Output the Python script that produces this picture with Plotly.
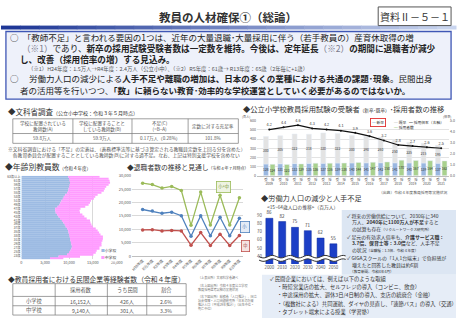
import math
import plotly.graph_objects as go

W, H = 462, 320
FONT = "Noto Sans CJK JP"


def X(v):
    return v / W


def Y(v):
    return 1 - v / H


# ---------------- data ----------------
# 年齢別教員数（令和４年度）
age_labels = [f"{a}歳" for a in range(22, 63)] + ["63歳以上"]
age_elem = [6000, 7800, 9600, 10000, 10300, 10500, 10600, 10500, 10400, 10300,
            10200, 10100, 10000, 9900, 9800, 9600, 9300, 9100, 8800, 8500,
            8100, 7800, 7500, 7200, 7100, 7100, 7600, 8000, 8200, 8400,
            8700, 8900, 9200, 9600, 9800, 9900, 10000, 10100, 10200, 10100,
            10000, 9800]
age_junior = [2800, 4500, 5500, 5600, 5500, 6100, 6200, 6300, 6400, 6700,
              6900, 7000, 6600, 6400, 6200, 6000, 5700, 5600, 5700, 5900,
              5600, 5400, 5300, 5100, 5100, 5300, 5800, 6100, 6200, 6200,
              6500, 6600, 6800, 7200, 7500, 7600, 7800, 8200, 8400, 8400,
              8300, 6600]
age_ticks = ["63歳以上"] + [f"{a}歳" for a in range(61, 22, -2)]
age_xticks = [0, 5000, 10000, 15000, 20000]

# 退職者数の推移と見通し
retire_labels = ["H30年度", "R元年度", "R2年度", "R3年度", "R4年度", "R5年度",
                 "R6年度", "R7年度", "R8年度", "R9年度", "R10年度"]
retire_total = [27200, 26700, 25400, 26000, 24500, 11500, 23900, 11600, 22700, 11600, 21800]
retire_elem = [17400, 16800, 16000, 16400, 15100, 7400, 15100, 7600, 14500, 7600, 14100]
retire_junior = [9800, 9900, 9400, 9600, 9400, 4100, 8800, 4000, 8200, 4000, 7700]

# 公立小学校教員採用試験
exam_years = [2009, 2010, 2011, 2012, 2013, 2014, 2015, 2016, 2017, 2018, 2019, 2020, 2021]
exam_new = [128, 131, 133, 135, 137, 139, 140, 141, 142, 141, 140, 139, 137]
exam_old = [300, 305, 322, 318, 330, 322, 300, 290, 280, 250, 225, 215, 195]
exam_hired = [124, 123, 129, 136, 136, 138, 144, 147, 150, 170, 167, 164, 162]
exam_ratio = [4.2, 4.4, 4.6, 4.3, 4.2, 4.1, 3.9, 3.6, 3.2, 2.8, 2.7, 2.6, 2.5]

# 15～64歳人口の推移（百万人）
pop_years = ["2000", "2010", "2020", "2030", "2040", "2050"]
pop_values = [86, 82, 75, 71, 62, 55]

# 文科省調査 table
tbl1_header = ["学校に配置されている<br>教師数(A)", "学校に配置することと<br>している教師数(B)",
               "不足(C)<br>(=B−A)", "定数に対する充足率"]
tbl1_values = ["59.8万人", "59.9万人", "0.17万人（0.28%）", "101.8%"]
tbl1_colw = [61, 60, 57, 51]

# 民間企業等経験者 table
tbl2_header = ["", "採用者数", "うち民間", "割合"]
tbl2_school = ["小学校", "中学校"]
tbl2_hired = ["16,152人", "9,140人"]
tbl2_private = ["426人", "301人"]
tbl2_share = ["2.6%", "3.3%"]
tbl2_colw = [43, 53, 40, 40]

fig = go.Figure()

# ---------------- age pyramid ----------------
fig.add_trace(go.Bar(y=age_labels, x=age_elem, orientation="h", width=0.9,
                     marker=dict(color="#9dbbe3", line=dict(width=0)),
                     xaxis="x", yaxis="y", name="小学校"))
fig.add_trace(go.Bar(y=age_labels, x=age_junior, base=age_elem, orientation="h", width=0.9,
                     marker=dict(color="#ff9cff", line=dict(width=0)),
                     xaxis="x", yaxis="y", name="中学校"))

# ---------------- retirements ----------------
for vals, col in [(retire_total, "#9bbb59"), (retire_elem, "#4f81bd"), (retire_junior, "#c0504d")]:
    fig.add_trace(go.Scatter(x=retire_labels, y=vals, mode="lines+markers",
                             line=dict(color=col, width=1.3), marker=dict(size=3.5, color=col),
                             xaxis="x2", yaxis="y2"))

# ---------------- exam chart ----------------
bar_font = dict(size=3.3, color="#333", family=FONT)
fig.add_trace(go.Bar(x=exam_years, y=exam_new, offset=-0.4, width=0.34,
                     marker=dict(color="#9ab7e0"), text=exam_new, textposition="inside",
                     insidetextanchor="middle", textangle=0, constraintext="none",
                     textfont=bar_font, xaxis="x3", yaxis="y3"))
fig.add_trace(go.Bar(x=exam_years, y=exam_old, base=exam_new, offset=-0.4, width=0.34,
                     marker=dict(color="#e3e3e3"), text=exam_old, textposition="inside",
                     insidetextanchor="middle", textangle=0, constraintext="none",
                     textfont=bar_font, xaxis="x3", yaxis="y3"))
fig.add_trace(go.Bar(x=exam_years, y=exam_hired, offset=0.06, width=0.34,
                     marker=dict(color="#a9d18e"), text=exam_hired, textposition="inside",
                     insidetextanchor="middle", textangle=0, constraintext="none",
                     textfont=bar_font, xaxis="x3", yaxis="y3"))
fig.add_trace(go.Scatter(x=exam_years, y=exam_ratio, mode="lines+markers+text",
                         text=[f"{v:.1f}" for v in exam_ratio], textposition="top center",
                         textfont=dict(size=3.8, color="#333", family=FONT),
                         line=dict(color="#111", width=1.2), marker=dict(size=2, color="#111"),
                         xaxis="x3", yaxis="y4", cliponaxis=False))

# ---------------- population bars ----------------
fig.add_trace(go.Bar(x=pop_years, y=pop_values, width=0.55,
                     marker=dict(color="#1c3fc6", line=dict(color="#0b2a9e", width=0.5)),
                     text=pop_values, textposition="outside", cliponaxis=False,
                     textfont=dict(size=4.5, color="#333", family=FONT),
                     xaxis="x5", yaxis="y5"))

# ---------------- shapes / annotations helpers ----------------
shapes = []
anns = []


def R(x0, y0, x1, y1, fill=None, line=None, lw=1.0, layer="below"):
    shapes.append(dict(type="rect", xref="paper", yref="paper", x0=X(x0), x1=X(x1), y0=Y(y1), y1=Y(y0),
                       fillcolor=fill or "rgba(0,0,0,0)",
                       line=dict(color=line or "rgba(0,0,0,0)", width=lw if line else 0), layer=layer))


def L(x0, y0, x1, y1, color="#777", width=0.7):
    shapes.append(dict(type="line", xref="paper", yref="paper", x0=X(x0), x1=X(x1), y0=Y(y0), y1=Y(y1),
                       line=dict(color=color, width=width), layer="above"))


def T(x, y, text, size, color="#333", anchor="left", **kw):
    d = dict(x=X(x), y=Y(y), xref="paper", yref="paper", text=text, showarrow=False,
             xanchor=anchor, yanchor="middle", font=dict(size=size, color=color, family=FONT))
    d.update(kw)
    anns.append(d)


def table(x0, col_w, row_edges, rows, size):
    xs = [x0]
    for w in col_w:
        xs.append(xs[-1] + w)
    R(xs[0], row_edges[0], xs[-1], row_edges[-1], fill="white")
    for xx in xs:
        L(xx, row_edges[0], xx, row_edges[-1])
    for yy in row_edges:
        L(xs[0], yy, xs[-1], yy)
    for r, row in enumerate(rows):
        yc = (row_edges[r] + row_edges[r + 1]) / 2
        for c, txt in enumerate(row):
            T((xs[c] + xs[c + 1]) / 2, yc, txt, size, "#555", "center")


# title gradient bar
n = 24
for i in range(n):
    t = i / (n - 1)
    r = int(30 + (200 - 30) * t)
    g = int(55 + (212 - 55) * t)
    b = int(150 + (238 - 150) * t)
    R(i * W / n, 22, (i + 1) * W / n + 0.5, 26, fill=f"rgb({r},{g},{b})")
R(383, 3, 457, 22, fill="white", line="#555", lw=1)
R(5, 28, 457, 97, fill="#eef1fa", line="#3f57b5", lw=1.3)
R(346, 210, 462, 276, fill="#dce6f3")
R(265, 276, 462, 320, fill="#e6edf7")

# tables
table(12, tbl1_colw, [117, 132, 142], [tbl1_header, tbl1_values], 4.6)
table(12, tbl2_colw, [285, 298, 307.5, 317],
      [tbl2_header] + [list(r) for r in zip(tbl2_school, tbl2_hired, tbl2_private, tbl2_share)], 5.2)

# broken-axis wave on population chart
pts_top, pts_bot = [], []
for k in range(0, 45):
    xx = 262 + k * 2
    yy = 257.5 + 1.3 * math.sin(k * 0.7)
    pts_top.append((xx, yy))
    pts_bot.append((xx, yy + 3.5))
path = "M " + " L ".join(f"{X(a):.5f},{Y(b):.5f}" for a, b in pts_top)
path += " L " + " L ".join(f"{X(a):.5f},{Y(b):.5f}" for a, b in reversed(pts_bot)) + " Z"
shapes.append(dict(type="path", xref="paper", yref="paper", path=path, fillcolor="white",
                   line=dict(width=0), layer="above"))
for pts in (pts_top, pts_bot):
    p = "M " + " L ".join(f"{X(a):.5f},{Y(b):.5f}" for a, b in pts)
    shapes.append(dict(type="path", xref="paper", yref="paper", path=p,
                       line=dict(color="#333", width=1), layer="above"))

# ---------------- texts ----------------
T(230, 13, "<b>教員の人材確保①（総論）</b>", 11.5, "#333", "center")
T(420, 12.5, "資料Ⅱ－５－１", 10, "#333", "center")

BS = 8.5
G = "<span style='color:#7a7a8a'>"
T(7, 34, "○　「教師不足」と言われる要因の1つは、近年の大量退職･大量採用に伴う（若手教員の）産育休取得の増", BS, "#222")
T(19, 44.8, G + "（※1）</span>であり、<b>新卒の採用試験受験者数は一定数を維持。今後は、定年延長</b>" + G +
  "（※2）</span><b>の期間に退職者が減少</b>", 8.6, "#222")
T(17, 56.3, "<b>し、改善（採用倍率の増）する見込み。</b>", 8.6, "#222")
T(25, 66, "（※1）H24年度：1.5万人→R4年度：2.4万人（公立小中）、（※2）R5年度：61歳→ R13年度：65歳（2年毎に+1歳）",
  5.4, "#555")
T(7, 75.8, "○　 労働力人口の減少による<b>人手不足や離職の増加は、日本の多くの業種における共通の課題･現象</b>。民間出身",
  BS, "#222")
T(17, 87.4, "者の活用等を行いつつ、<b>「数」に頼らない教育･効率的な学校運営としていく必要があるのではないか。</b>",
  BS, "#222")

T(5, 110, "◆文科省調査<span style='font-size:5px'>（公立小中学校：令和３年５月時点）</span>", 7.5, "#333")
T(5, 148, "※文科省調査における「不足」の定義は、（義務標準法等に基づき算定される教職員定数を上回る分を含めた）", 4.8, "#555")
T(5, 154, "　各教育委員会が配置することとしている教師数(B)に対する過不足。なお、上記は特別支援学校を含めない", 4.8, "#555")

T(2, 166, "◆年齢別教員数<span style='font-size:4.5px'>（令和４年度）</span>", 7.8, "#333")
T(126, 166, "◆退職者数の推移と見通し<span style='font-size:4px'>（令和４年７月時点）</span>", 6.8, "#333")
T(5, 280, "◆教員採用者における民間企業等経験者数（令和４年度）", 6.8, "#333")

T(99, 251, "<span style='color:#9dbbe3'>■</span>小学校", 3.8, "#333", bgcolor="white")
T(99, 258, "<span style='color:#ff9cff'>■</span>中学校", 3.8, "#333", bgcolor="white")

T(226, 186, "小+中", 4.2, "#6f8f2f", "center", bgcolor="#eef3e2", bordercolor="#9bbb59", borderwidth=0.8, borderpad=1.5)
T(248, 227, "小", 4.2, "#3f6fad", "center", bgcolor="#e3ebf6", bordercolor="#4f81bd", borderwidth=0.8, borderpad=1.5)
T(248, 247, "中", 4.2, "#a0403d", "center", bgcolor="#f5e3e2", bordercolor="#c0504d", borderwidth=0.8, borderpad=1.5)

T(244, 107, "◆公立小学校教員採用試験の受験者<span style='font-size:4.6px'>（新卒･既卒）</span>･採用者数の推移", 7.3, "#333")
T(243, 114.5, "(百人)", 3.1, "#555")
T(459, 114.5, "(倍率)", 3.1, "#555", "right")
T(383, 121, "<span style='color:#9ab7e0'>━</span> 新卒", 3.8, "#333", "center", bordercolor="#e03030", borderwidth=0.9, borderpad=1)
T(397, 121, "<span style='color:#cfcfcf'>━</span> 既卒", 3.8, "#333", "left")
T(412, 121, "━ 採用倍率（右軸）", 3.8, "#333", "left")
T(397, 126, "<span style='color:#a9d18e'>━</span> 採用者数", 3.8, "#333", "left")
T(456, 192, "（出典）令和４年度教員採用等実施状況", 3.8, "#555", "right")

T(262, 198, "◆労働力人口の減少と人手不足", 7.2, "#333")
T(268, 207, "<15~64歳人口の推移>（百万人）", 4.8, "#444")

bx = 349
BF = 4.9
T(bx, 216, "✓ 将来の労働供給について、2030年に340", BF, "#333")
T(bx, 222.5, "　万人、<b>2040年に1100万人が不足</b>すると", BF, "#333")
T(bx, 229, "　の試算も存在<span style='font-size:3.6px'>（リクルートワークス研究所）</span>", BF, "#333")
T(bx, 237.5, "✓ 足元の有効求人倍率も、<b>介護サービス職：</b>", BF, "#333")
T(bx, 244, "　<b>3.7倍、保育士等：3.0倍</b>など、人手不足", BF, "#333")
T(bx, 250.5, "　の状況<span style='font-size:3.6px'>（全職種：1.3倍、令和４年度）</span>", BF, "#333")
T(bx, 259, "✓ GIGAスクールの「1人1台端末」で負担感が", BF, "#333")
T(bx, 265.5, "　増えたと回答した教員は約6割", BF, "#333")
T(bx, 271.5, "　<span style='font-size:3.6px'>（教育新聞、令和4年4月）</span>", BF, "#333")

LF = 5.3
T(271, 280.5, "✓ 民間企業においては、例えば以下のような取組", LF, "#333")
T(278, 288.5, "・時短営業店の拡大、セルフレジの導入（コンビニ、飲食）", LF, "#333")
T(278, 297, "・中途採用の拡大、週休3日/4日制の導入、支店の統廃合（金融）", LF, "#333")
T(278, 305.5, "・（複数社による）共同運航、ダイヤの見直し、「連節バス」の導入（交通）", LF, "#333")
T(278, 313.5, "・タブレット端末による授業（学習塾）", LF, "#333")

NF = 3.1
T(198, 279, "（上表出所）文部科学省調べ", NF, "#777")
T(198, 287, "（右上図出所）令和４年度公立学校", NF, "#777")
T(198, 291, "教員採用選考試験の実施状況", NF, "#777")
T(198, 298, "（右下図出所）総務省「人口推計」、国立", NF, "#777")
T(198, 302, "社会保障・人口問題研究所「日本の将来", NF, "#777")
T(198, 306, "推計人口（平成29年推計）」（出生中位・", NF, "#777")
T(198, 310, "死亡中位）", NF, "#777")

# ---------------- layout ----------------
tick = lambda s: dict(size=s, color="#555", family=FONT)
fig.update_layout(
    width=W, height=H, margin=dict(l=0, r=0, t=0, b=0),
    paper_bgcolor="white", plot_bgcolor="rgba(0,0,0,0)",
    showlegend=False, barmode="overlay",
    font=dict(family=FONT, color="#333"),
    shapes=shapes, annotations=anns,
    xaxis=dict(domain=[X(20.7), X(117.5)], range=[0, 20000], tickvals=age_xticks,
               ticktext=[f"{v:,}" for v in age_xticks], tickfont=tick(3.8), anchor="y",
               showgrid=True, gridcolor="#d9d9d9", gridwidth=0.6, zeroline=False, ticks="", ticklen=0),
    yaxis=dict(domain=[Y(260), Y(175)], type="category", categoryorder="array", categoryarray=age_labels,
               tickvals=age_ticks, ticktext=age_ticks, tickfont=tick(3.2), anchor="x", showgrid=False,
               ticks="", ticklen=0),
    xaxis2=dict(domain=[X(133), X(246)], type="category", range=[-1.1, 10.4], tickangle=-45,
                tickfont=tick(3.8), anchor="y2", showgrid=False, ticks="", showline=True,
                linecolor="#bfbfbf", linewidth=0.6),
    yaxis2=dict(domain=[Y(257), Y(175)], range=[0, 30000], dtick=5000, tickformat=",d",
                tickfont=tick(4), anchor="x2", gridcolor="#d9d9d9", gridwidth=0.6, zeroline=False),
    xaxis3=dict(domain=[X(260), X(455)], range=[2008.15, 2021.55], tickvals=exam_years,
                ticktext=[f"受　採<br>{y}" for y in exam_years], tickfont=tick(3.4), anchor="y3",
                showgrid=False, ticks="", zeroline=False, showline=True, linecolor="#bfbfbf", linewidth=0.6),
    yaxis3=dict(domain=[Y(175), Y(119)], range=[0, 600], dtick=100, tickfont=tick(3.6), anchor="x3",
                gridcolor="#e3e3e3", gridwidth=0.6, zeroline=False),
    yaxis4=dict(overlaying="y3", side="right", anchor="x3", range=[0, 5], dtick=1, tickformat=".1f",
                tickfont=tick(3.6), showgrid=False, zeroline=False),
    xaxis5=dict(domain=[X(266), X(344)], type="category", tickfont=tick(4.4), anchor="y5",
                showgrid=False, ticks=""),
    yaxis5=dict(domain=[Y(265), Y(212)], range=[30.5, 93.6], tickvals=[40, 50, 60, 70, 80, 90],
                tickfont=tick(4.4), anchor="x5", showgrid=False, zeroline=False),
)

fig.write_html("out.html")
